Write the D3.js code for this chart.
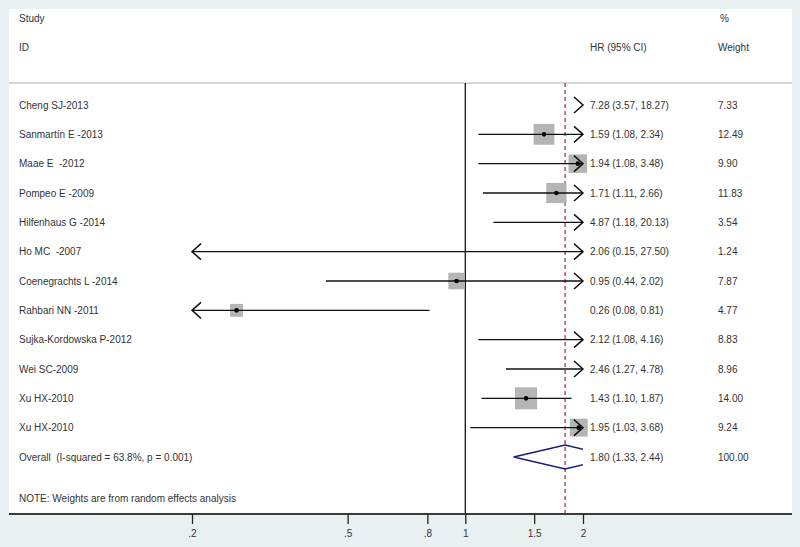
<!DOCTYPE html>
<html>
<head>
<meta charset="utf-8">
<script src="https://cdn.jsdelivr.net/npm/d3@7"></script>
<style>
  html, body { margin: 0; padding: 0; background: #e9f0f2; }
  svg { display: block; }
  text { font-family: "Liberation Sans", Arial, sans-serif; font-size: 10px; fill: #333; white-space: pre; }
</style>
</head>
<body>
<svg id="chart" width="800" height="547"></svg>
<script>
const studies = ["Cheng SJ-2013", "Sanmartín E -2013", "Maae E  -2012", "Pompeo E -2009", "Hilfenhaus G -2014",
  "Ho MC  -2007", "Coenegrachts L -2014", "Rahbari NN -2011", "Sujka-Kordowska P-2012", "Wei SC-2009",
  "Xu HX-2010", "Xu HX-2010"];
const hr    = [7.28, 1.59, 1.94, 1.71, 4.87, 2.06, 0.95, 0.26, 2.12, 2.46, 1.43, 1.95];
const lower = [3.57, 1.08, 1.08, 1.11, 1.18, 0.15, 0.44, 0.08, 1.08, 1.27, 1.10, 1.03];
const upper = [18.27, 2.34, 3.48, 2.66, 20.13, 27.50, 2.02, 0.81, 4.16, 4.78, 1.87, 3.68];
const weights = [7.33, 12.49, 9.90, 11.83, 3.54, 1.24, 7.87, 4.77, 8.83, 8.96, 14.00, 9.24];
const overall = { label: "Overall  (I-squared = 63.8%, p = 0.001)", hr: 1.80, lower: 1.33, upper: 2.44, weight: 100.00 };
const tickValues = [0.2, 0.5, 0.8, 1, 1.5, 2];
const tickLabels = [".2", ".5", ".8", "1", "1.5", "2"];

const svg = d3.select("#chart");
const x = d3.scaleLog().domain([0.2, 2]).range([192, 583]);
const y = d3.scaleLinear().domain([0, 12]).range([105, 457]);
const fmt = d3.format(".2f");

// panel
svg.append("rect").attr("x", 9).attr("y", 9).attr("width", 783).attr("height", 505).attr("fill", "#fff");

// header
svg.append("text").attr("x", 19).attr("y", 22).text("Study");
svg.append("text").attr("x", 19).attr("y", 51).text("ID");
svg.append("text").attr("x", 720).attr("y", 22).text("%");
svg.append("text").attr("x", 590).attr("y", 51).text("HR (95% CI)");
svg.append("text").attr("x", 718).attr("y", 51).text("Weight");
svg.append("line").attr("x1", 9).attr("x2", 792).attr("y1", 83).attr("y2", 83)
  .attr("stroke", "#c8c8c8").attr("stroke-width", 1.5);

// reference lines
svg.append("line").attr("x1", x(1)).attr("x2", x(1)).attr("y1", 83).attr("y2", 514)
  .attr("stroke", "#111").attr("stroke-width", 1.3);
svg.append("line").attr("x1", x(overall.hr)).attr("x2", x(overall.hr)).attr("y1", 83).attr("y2", 514)
  .attr("stroke", "#a8262e").attr("stroke-width", 1.2).attr("stroke-dasharray", "4,3");

const xmin = x.domain()[0], xmax = x.domain()[1];
const g = svg.append("g");

studies.forEach((s, i) => {
  const yy = y(i);
  g.append("text").attr("x", 19).attr("y", yy + 3.5).text(s);
  g.append("text").attr("x", 590).attr("y", yy + 3.5)
    .text(`${fmt(hr[i])} (${fmt(lower[i])}, ${fmt(upper[i])})`);
  g.append("text").attr("x", 718).attr("y", yy + 3.5).text(fmt(weights[i]));

  // box
  if (hr[i] >= xmin && hr[i] <= xmax) {
    const side = 5.9 * Math.sqrt(weights[i]);
    g.append("rect").attr("x", x(hr[i]) - side / 2).attr("y", yy - side / 2)
      .attr("width", side).attr("height", side).attr("fill", "#b5b5b5");
  }
  // CI line
  const lo = Math.max(lower[i], xmin), hi = Math.min(upper[i], xmax);
  if (lo < hi) {
    g.append("line").attr("x1", x(lo)).attr("x2", x(hi)).attr("y1", yy).attr("y2", yy)
      .attr("stroke", "#111").attr("stroke-width", 1.4);
  }
  if (upper[i] > xmax) {
    const t = x(xmax);
    g.append("path").attr("d", `M${t - 9},${yy - 8}L${t},${yy}L${t - 9},${yy + 8}`)
      .attr("fill", "none").attr("stroke", "#111").attr("stroke-width", 1.5);
  }
  if (lower[i] < xmin) {
    const t = x(xmin);
    g.append("path").attr("d", `M${t + 9},${yy - 8}L${t},${yy}L${t + 9},${yy + 8}`)
      .attr("fill", "none").attr("stroke", "#111").attr("stroke-width", 1.5);
  }
  if (hr[i] >= xmin && hr[i] <= xmax) {
    g.append("circle").attr("cx", x(hr[i])).attr("cy", yy).attr("r", 2.3).attr("fill", "#000");
  }
});

// overall
const oy = y(12);
svg.append("text").attr("x", 19).attr("y", oy + 3.5).text(overall.label);
svg.append("text").attr("x", 590).attr("y", oy + 3.5)
  .text(`${fmt(overall.hr)} (${fmt(overall.lower)}, ${fmt(overall.upper)})`);
svg.append("text").attr("x", 718).attr("y", oy + 3.5).text(fmt(overall.weight));
svg.append("clipPath").attr("id", "clip").append("rect")
  .attr("x", x(xmin)).attr("y", 0).attr("width", x(xmax) - x(xmin)).attr("height", 547);
svg.append("path")
  .attr("d", `M${x(overall.lower)},${oy}L${x(overall.hr)},${oy - 12}L${x(overall.upper)},${oy}L${x(overall.hr)},${oy + 12}Z`)
  .attr("fill", "none").attr("stroke", "#1c1c78").attr("stroke-width", 1.5)
  .attr("clip-path", "url(#clip)");

// note
svg.append("text").attr("x", 19).attr("y", 502).text("NOTE: Weights are from random effects analysis");

// axis
svg.append("line").attr("x1", 9).attr("x2", 792).attr("y1", 514).attr("y2", 514)
  .attr("stroke", "#3a3a3a").attr("stroke-width", 2);
const axis = d3.axisBottom(x).tickValues(tickValues).tickFormat((d, i) => tickLabels[i])
  .tickSize(10).tickPadding(6);
const ag = svg.append("g").attr("transform", "translate(0,514)").call(axis);
ag.select(".domain").remove();
ag.selectAll(".tick line").attr("stroke", "#222").attr("stroke-width", 1.3);
ag.selectAll(".tick text").attr("fill", "#333")
  .style("font-family", '"Liberation Sans", Arial, sans-serif').style("font-size", "10px");
</script>
</body>
</html>
